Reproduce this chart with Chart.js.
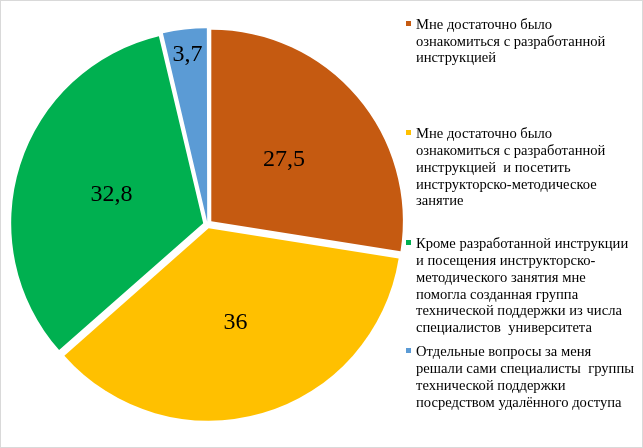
<!DOCTYPE html>
<html>
<head>
<meta charset="utf-8">
<script src="https://cdn.jsdelivr.net/npm/chart.js@4"></script>
<style>
  html, body { margin: 0; padding: 0; background: #fff; }
  #wrap { position: relative; width: 643px; height: 448px; overflow: hidden; background: #fff; }
  #wrap canvas { position: absolute; left: 0; top: 0; }
  #frame { position: absolute; left: 0; top: 0; width: 643px; height: 448px; box-sizing: border-box; border: 1px solid #d9d9d9; pointer-events: none; }
  .item { position: absolute; left: 416px; font-family: "Liberation Serif", "Times New Roman", serif; font-size: 14.6px; line-height: 16.7px; color: #000; white-space: pre; }
  .mark { position: absolute; left: -10px; top: 4.6px; width: 5px; height: 5px; }
</style>
</head>
<body>
<div id="wrap">
  <canvas id="c" width="643" height="448"></canvas>
  <div id="legend"></div>
  <div id="frame"></div>
</div>
<script>
// ---- data ----
const categories = [
  ["Мне достаточно было", "ознакомиться с разработанной", "инструкцией"],
  ["Мне достаточно было", "ознакомиться с разработанной", "инструкцией  и посетить", "инструкторско-методическое", "занятие"],
  ["Кроме разработанной инструкции", "и посещения инструкторско-", "методического занятия мне", "помогла созданная группа", "технической поддержки из числа", "специалистов  университета"],
  ["Отдельные вопросы за меня", "решали сами специалисты  группы", "технической поддержки", "посредством удалённого доступа"]
];
const values = [27.5, 36, 32.8, 3.7];
const valueLabels = ["27,5", "36", "32,8", "3,7"];
const colors = ["#C55A11", "#FFC000", "#00B050", "#5B9BD5"];

// ---- layout (style) ----
const legendTops = [16.0, 125.4, 235.4, 343.4];

const labelPlugin = {
  id: 'sliceLabels',
  afterDatasetsDraw(chart) {
    const ctx = chart.ctx;
    const meta = chart.getDatasetMeta(0);
    ctx.save();
    ctx.fillStyle = '#000';
    ctx.font = '24px "Liberation Serif", "Times New Roman", serif';
    ctx.textAlign = 'center';
    ctx.textBaseline = 'middle';
    meta.data.forEach((arc, i) => {
      const p = arc.getProps(['x', 'y', 'startAngle', 'endAngle', 'outerRadius']);
      const mid = (p.startAngle + p.endAngle) / 2;
      const span = p.endAngle - p.startAngle;
      const r = (span < 0.5 ? 0.87 : 0.5) * p.outerRadius + 5;
      ctx.fillText(valueLabels[i], p.x + Math.cos(mid) * r, p.y + Math.sin(mid) * r + 1);
    });
    ctx.restore();
  }
};

new Chart(document.getElementById('c'), {
  type: 'pie',
  data: {
    labels: categories,
    datasets: [{
      data: values,
      backgroundColor: colors,
      borderWidth: 0,
      offset: [20, 16, 18, 11],
      hoverOffset: 0
    }]
  },
  options: {
    responsive: false,
    animation: false,
    events: [],
    layout: { padding: { left: 6, right: 234, top: 23, bottom: 22 } },
    plugins: { legend: { display: false }, tooltip: { enabled: false } }
  },
  plugins: [labelPlugin]
});

// HTML legend built from the same arrays
const legend = document.getElementById('legend');
categories.forEach((lines, i) => {
  const d = document.createElement('div');
  d.className = 'item';
  d.style.top = legendTops[i] + 'px';
  const m = document.createElement('span');
  m.className = 'mark';
  m.style.background = colors[i];
  d.appendChild(m);
  d.appendChild(document.createTextNode(lines.join('\n')));
  legend.appendChild(d);
});
</script>
</body>
</html>
